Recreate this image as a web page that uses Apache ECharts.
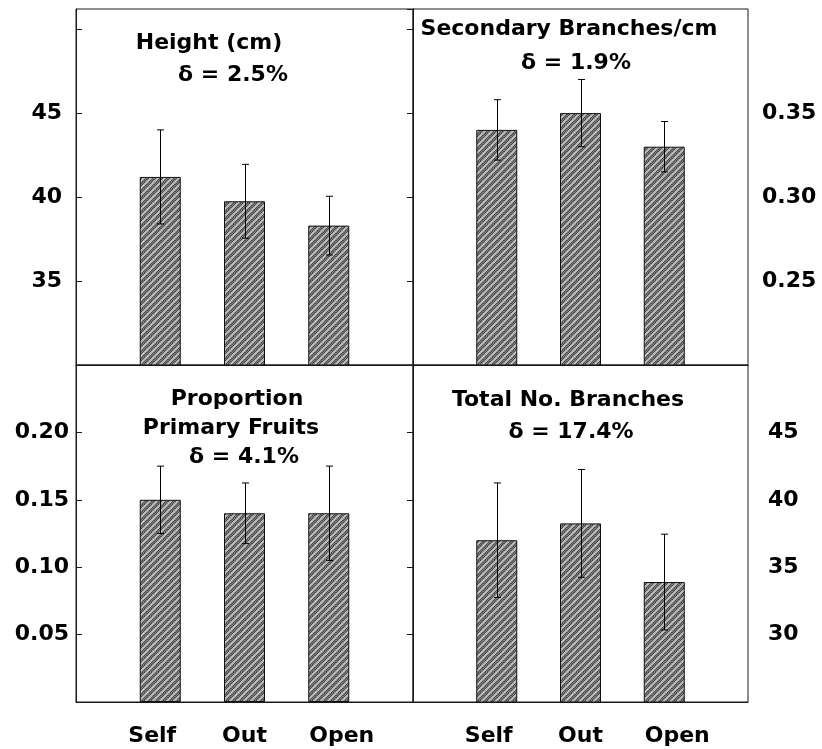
<!DOCTYPE html>
<html>
<head>
<meta charset="utf-8">
<script src="https://cdn.jsdelivr.net/npm/echarts@6/dist/echarts.min.js"></script>
<style>
  html, body { margin: 0; padding: 0; background: #fff; }
  #chart { width: 822px; height: 749px; }
</style>
</head>
<body>
<div id="chart"></div>
<script>
// Pollination treatments
const categories = ['Self', 'Out', 'Open'];

// Height (cm)
const heightMean = [41.2, 39.75, 38.3];
const heightErr = [2.8, 2.2, 1.75];
const heightTicks = ['35', '40', '45'];

// Secondary branches per cm
const secBranchMean = [0.34, 0.35, 0.33];
const secBranchErr = [0.018, 0.02, 0.015];
const secBranchTicks = ['0.25', '0.30', '0.35'];

// Proportion of primary fruits
const primFruitMean = [0.15, 0.14, 0.14];
const primFruitErr = [0.025, 0.0225, 0.035];
const primFruitTicks = ['0.05', '0.10', '0.15', '0.20'];

// Total number of branches
const totalBranchMean = [37, 38.25, 33.9];
const totalBranchErr = [4.25, 4, 3.55];
const totalBranchTicks = ['30', '35', '40', '45'];

// Panel titles
const panelTitles = [
  ['Height (cm)', 'δ = 2.5%'],
  ['Secondary Branches/cm', 'δ = 1.9%'],
  ['Proportion', 'Primary Fruits', 'δ = 4.1%'],
  ['Total No. Branches', 'δ = 17.4%']
];

// ---- styling / layout ----
const FONT = 'DejaVu Sans';
const INK = '#1a1a1a';

// dithered grey fill with light diagonal hatching for the bars
function hatchPattern() {
  const s = 7;
  const c = document.createElement('canvas');
  c.width = s; c.height = s;
  const g = c.getContext('2d');
  for (let y = 0; y < s; y++) {
    for (let x = 0; x < s; x++) {
      g.fillStyle = ((x + y) % 2 === 0) ? '#4c4c4c' : '#7e7e7e';
      g.fillRect(x, y, 1, 1);
    }
  }
  g.strokeStyle = 'rgba(205,205,205,0.9)';
  g.lineWidth = 1.7;
  g.beginPath();
  g.moveTo(0, s); g.lineTo(s, 0);
  g.moveTo(-1, 1); g.lineTo(1, -1);
  g.moveTo(s - 1, s + 1); g.lineTo(s + 1, s - 1);
  g.stroke();
  return c;
}
const hatch = { image: hatchPattern(), repeat: 'repeat' };

const L = 76, M = 413, R = 748, T = 9, MID = 365, B = 702;
const grids = [
  { left: L, top: T, width: M - L, height: MID - T },
  { left: M, top: T, width: R - M, height: MID - T },
  { left: L, top: MID, width: M - L, height: B - MID },
  { left: M, top: MID, width: R - M, height: B - MID }
].map(g => Object.assign(g, { show: true, borderColor: INK, borderWidth: 1, containLabel: false }));

const panels = [
  { mean: heightMean, err: heightErr, ticks: heightTicks, min: 30, max: 51.2, step: 5, dec: 0, side: 'left', margin: 14, pad: [5, 0, 0, 0] },
  { mean: secBranchMean, err: secBranchErr, ticks: secBranchTicks, min: 0.20, max: 0.412, step: 0.05, dec: 2, side: 'right', margin: 14, pad: 0 },
  { mean: primFruitMean, err: primFruitErr, ticks: primFruitTicks, min: 0, max: 0.25, step: 0.05, dec: 2, side: 'left', margin: 7, pad: [5, 0, 0, 0] },
  { mean: totalBranchMean, err: totalBranchErr, ticks: totalBranchTicks, min: 25, max: 50, step: 5, dec: 0, side: 'right', margin: 20, pad: 0 }
];

const xAxes = [], yAxes = [], series = [];

panels.forEach((p, gi) => {
  const bottomRow = gi >= 2;
  xAxes.push({
    type: 'value', gridIndex: gi, min: 0, max: 4, interval: 1,
    axisLine: { show: true, lineStyle: { color: INK, width: 1 } },
    axisTick: { show: false },
    splitLine: { show: false },
    axisLabel: {
      show: bottomRow, margin: 23,
      fontFamily: FONT, fontWeight: 'bold', fontSize: 22, color: '#000',
      formatter: v => {
        const name = categories[v - 1];
        return name ? '{c' + v + '|' + name + '}' : '';
      },
      rich: {
        c1: { fontFamily: FONT, fontWeight: 'bold', fontSize: 22, color: '#000', padding: [0, 16, 0, 0] },
        c2: { fontFamily: FONT, fontWeight: 'bold', fontSize: 22, color: '#000' },
        c3: { fontFamily: FONT, fontWeight: 'bold', fontSize: 22, color: '#000', padding: [0, 0, 0, 26] }
      }
    }
  });

  const fmt = v => {
    const s = v.toFixed(p.dec);
    return p.ticks.includes(s) ? s : '';
  };
  const common = {
    type: 'value', gridIndex: gi, min: p.min, max: p.max, interval: p.step,
    axisLine: { show: true, lineStyle: { color: INK, width: 1 } },
    axisTick: { show: true, inside: true, length: 6, lineStyle: { color: INK, width: 1 } },
    splitLine: { show: false }
  };
  const labelled = Object.assign({}, common, {
    position: p.side,
    axisLabel: {
      show: true, margin: p.margin, formatter: fmt, padding: p.pad,
      showMinLabel: false, showMaxLabel: false,
      fontFamily: FONT, fontWeight: 'bold', fontSize: 22, color: '#000'
    }
  });
  const yIndexLabelled = yAxes.length;
  yAxes.push(labelled);
  if (p.side === 'left') {
    // tick marks along the shared middle divider
    yAxes.push(Object.assign({}, common, { position: 'right', axisLabel: { show: false } }));
  }

  series.push({
    type: 'bar', xAxisIndex: gi, yAxisIndex: yIndexLabelled,
    barWidth: 41,
    itemStyle: { color: hatch, borderColor: '#111', borderWidth: 1 },
    data: p.mean.map((v, i) => [i + 1, v]),
    silent: true, z: 2
  });

  series.push({
    type: 'custom', xAxisIndex: gi, yAxisIndex: yIndexLabelled,
    encode: { x: 0, y: [1, 2] },
    data: p.mean.map((v, i) => [i + 1, v - p.err[i], v + p.err[i]]),
    z: 5, silent: true,
    renderItem: (params, api) => {
      const x = api.value(0);
      const lo = api.coord([x, api.value(1)]);
      const hi = api.coord([x, api.value(2)]);
      const cx = Math.round(lo[0]) + 0.5;
      const w = 3.5;
      const st = { stroke: '#000', lineWidth: 1 };
      return {
        type: 'group',
        children: [
          { type: 'line', shape: { x1: cx, y1: lo[1], x2: cx, y2: hi[1] }, style: st },
          { type: 'line', shape: { x1: cx - w, y1: hi[1], x2: cx + w, y2: hi[1] }, style: st },
          { type: 'line', shape: { x1: cx - w, y1: lo[1], x2: cx + w, y2: lo[1] }, style: st }
        ]
      };
    }
  });
});

// title text placement inside each panel (centre x, centre y per line)
const titleSpots = [
  [[209, 43], [233, 75]],
  [[569, 29], [576, 63]],
  [[237, 399], [231, 428], [244, 457]],
  [[568, 400], [571, 432]]
];
const graphic = [];
panelTitles.forEach((lines, pi) => {
  lines.forEach((t, li) => {
    const [x, y] = titleSpots[pi][li];
    graphic.push({
      type: 'text', x: x, y: y, z: 10,
      style: {
        text: t, fontFamily: FONT, fontWeight: 'bold', fontSize: 22,
        fill: '#000', align: 'center', verticalAlign: 'middle'
      }
    });
  });
});

const chart = echarts.init(document.getElementById('chart'), null, { renderer: 'canvas' });
chart.setOption({
  animation: false,
  backgroundColor: '#fff',
  grid: grids,
  xAxis: xAxes,
  yAxis: yAxes,
  series: series,
  graphic: graphic
});
</script>
</body>
</html>
